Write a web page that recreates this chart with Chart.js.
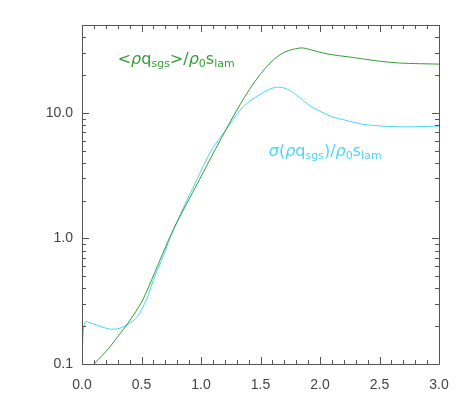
<!DOCTYPE html>
<html><head><meta charset="utf-8">
<script src="https://cdn.jsdelivr.net/npm/chart.js@4.4.0/dist/chart.umd.min.js"></script>
<style>html,body{margin:0;padding:0;background:#fff}#wrap{width:463px;height:417px}</style>
</head><body><div id="wrap"><canvas id="c" width="463" height="417"></canvas></div>
<script>
// <rho q_sgs>/rho0 s_lam  (green)
const xMean = [0.10, 0.17, 0.235, 0.30, 0.375, 0.45, 0.51, 0.585, 0.767, 0.986, 1.118, 1.328, 1.496, 1.664, 1.83, 1.92, 2.06, 2.25, 2.48, 2.67, 3.0];
const yMean = [0.1, 0.117, 0.137, 0.165, 0.204, 0.26, 0.323, 0.467, 1.17, 2.92, 5.07, 11.6, 20.1, 29, 32.8, 31.8, 29.4, 27.8, 25.9, 24.9, 24.4];
// sigma(rho q_sgs)/rho0 s_lam  (cyan)
const xSigma = [0.0, 0.012, 0.03, 0.05, 0.095, 0.207, 0.29, 0.375, 0.46, 0.54, 0.60, 0.69, 0.767, 0.964, 1.09, 1.2, 1.328, 1.41, 1.496, 1.56, 1.65, 1.74, 1.83, 1.92, 2.0, 2.1, 2.2, 2.34, 2.45, 2.67, 3.0];
const ySigma = [0.1, 0.19, 0.217, 0.216, 0.209, 0.192, 0.19, 0.204, 0.235, 0.323, 0.467, 0.75, 1.17, 2.92, 5.07, 7.1, 10.5, 12.4, 14.0, 15.2, 16.0, 15.2, 13.2, 11.3, 10.3, 9.3, 8.8, 8.17, 7.93, 7.73, 7.83];
const xTickLabels = [0, 0.5, 1, 1.5, 2, 2.5, 3];
const yTickLabels = [0.1, 1, 10];

const green = 'rgb(52,158,52)';
const cyan = 'rgb(72,214,250)';
const axisCol = '#555';

const toPts = (xs, ys) => xs.map((x, i) => ({x: x, y: ys[i]}));

function drawLabel(ctx, x, y, parts, color) {
  ctx.save();
  ctx.fillStyle = color;
  ctx.textBaseline = 'alphabetic';
  ctx.textAlign = 'left';
  let cx = x;
  for (const p of parts) {
    ctx.font = (p.it ? 'italic ' : '') + (p.sub ? '11px' : '16px') + ' "DejaVu Sans"';
    ctx.fillText(p.t, cx, y + (p.sub ? 3 : 0));
    cx += ctx.measureText(p.t).width;
  }
  ctx.restore();
}

const boxPlugin = {
  id: 'box',
  afterDatasetsDraw(chart) {
    const {ctx, chartArea: a, scales} = chart;
    const xs = scales.x, ys = scales.y;
    ctx.save();
    ctx.strokeStyle = axisCol;
    ctx.lineWidth = 1;
    ctx.beginPath();
    ctx.rect(Math.round(a.left) + 0.5, Math.round(a.top) + 0.5, Math.round(a.right - a.left), Math.round(a.bottom - a.top));
    ctx.stroke();
    ctx.beginPath();
    for (let i = 0; i <= 30; i++) {
      const v = i / 10;
      const px = Math.round(xs.getPixelForValue(v)) + 0.5;
      const len = (i % 5 === 0) ? 7 : 4;
      ctx.moveTo(px, a.bottom); ctx.lineTo(px, a.bottom - len);
      ctx.moveTo(px, a.top); ctx.lineTo(px, a.top + len);
    }
    for (let e = -1; e <= 1; e++) {
      for (let m = 1; m <= 9; m++) {
        const v = m * Math.pow(10, e);
        if (v < ys.min - 1e-9 || v > ys.max + 1e-9) continue;
        const py = Math.round(ys.getPixelForValue(v)) + 0.5;
        const len = (m === 1) ? 7 : 4;
        ctx.moveTo(a.left, py); ctx.lineTo(a.left + len, py);
        ctx.moveTo(a.right, py); ctx.lineTo(a.right - len, py);
      }
    }
    ctx.stroke();
    ctx.restore();
    drawLabel(ctx, xs.getPixelForValue(0.30), ys.getPixelForValue(24.5),
      [{t:'<'}, {t:'ρ', it:true}, {t:'q'}, {t:'sgs', sub:true}, {t:'>/'}, {t:'ρ', it:true}, {t:'0', sub:true}, {t:'s'}, {t:'lam', sub:true}], green);
    drawLabel(ctx, xs.getPixelForValue(1.57), ys.getPixelForValue(4.5),
      [{t:'σ', it:true}, {t:'('}, {t:'ρ', it:true}, {t:'q'}, {t:'sgs', sub:true}, {t:')/'}, {t:'ρ', it:true}, {t:'0', sub:true}, {t:'s'}, {t:'lam', sub:true}], cyan);
  }
};

new Chart(document.getElementById('c'), {
  type: 'line',
  data: {
    datasets: [
      {data: toPts(xMean, yMean), borderColor: green, borderWidth: 1, pointRadius: 0, tension: 0.35, fill: false},
      {data: toPts(xSigma, ySigma), borderColor: cyan, borderWidth: 1, pointRadius: 0, tension: 0.35, fill: false}
    ]
  },
  options: {
    responsive: false,
    animation: false,
    layout: {padding: {left: 0, top: 25, right: 24, bottom: 0}},
    plugins: {legend: {display: false}, tooltip: {enabled: false}},
    scales: {
      x: {
        type: 'linear', min: 0, max: 3,
        afterBuildTicks: s => { s.ticks = xTickLabels.map(v => ({value: v})); },
        afterFit: s => { s.height = 53; },
        grid: {display: false}, border: {display: false},
        ticks: {color: '#444', font: {family: 'Liberation Sans', size: 14}, padding: 5, maxRotation: 0,
          callback: v => Number(v).toFixed(1)}
      },
      y: {
        type: 'logarithmic', min: 0.1, max: 50,
        afterBuildTicks: s => { s.ticks = yTickLabels.map(v => ({value: v})); },
        afterFit: s => { s.width = 82; },
        grid: {display: false}, border: {display: false},
        ticks: {color: '#444', font: {family: 'Liberation Sans', size: 14}, padding: 1,
          callback: v => Number(v).toFixed(1)}
      }
    }
  },
  plugins: [boxPlugin]
});
</script>
</body></html>
